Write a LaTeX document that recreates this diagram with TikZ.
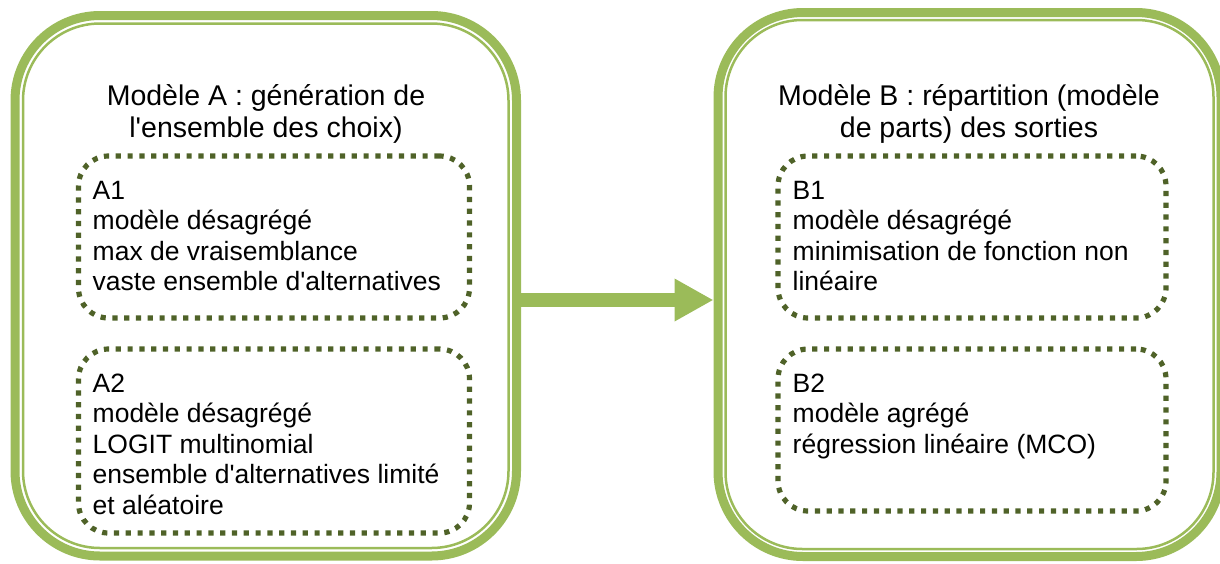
\documentclass[tikz,border=0pt]{standalone}
\usepackage{fontspec}
\setmainfont{Liberation Sans}
\usetikzlibrary{arrows.meta}
\definecolor{leaf}{HTML}{9BBB59}
\definecolor{olive}{HTML}{4F6228}
\begin{document}
\begin{tikzpicture}[x=1pt,y=-1pt,
  outerbox/.style={draw=leaf, line width=9pt, rounded corners=85pt, inner sep=0pt, outer sep=0pt},
  innerline/.style={draw=leaf, line width=2.5pt, rounded corners=77pt},
  dotbox/.style={draw=olive, line width=5.2pt, dash pattern=on 5.2pt off 6.6pt,
                 rounded corners=30pt, inner sep=0pt, outer sep=0pt},
  titletext/.style={anchor=base, inner sep=0pt, font=\fontsize{28.5}{32.5}\selectfont},
  bodytext/.style={anchor=base west, inner sep=0pt, font=\fontsize{26.5}{30.5}\selectfont},
  flow/.style={draw=leaf, line width=14pt, -{Triangle[length=39pt, width=40pt]}}]
\useasboundingbox (0,0) rectangle (1220,563);

% the two model frames: heavy outer line with a thin inner line
\node[outerbox, minimum width=501.5pt, minimum height=540.5pt] (boxA) at (265.75,285.75) {};
\node[outerbox, minimum width=503pt, minimum height=544pt] (boxB) at (969.5,284.5) {};
\draw[innerline] ([shift={(8,8)}]boxA.north west) rectangle ([shift={(-8,-8)}]boxA.south east);
\draw[innerline] ([shift={(7.5,7.5)}]boxB.north west) rectangle ([shift={(-7.5,-7.5)}]boxB.south east);

% titles
\node[titletext] (titleA) at (266,105) {\begin{tabular}[t]{@{}c@{}}Modèle A : génération de\\l\textquotesingle ensemble des choix)\end{tabular}};
\node[titletext] (titleB) at (969,105) {\begin{tabular}[t]{@{}c@{}}Modèle B : répartition (modèle\\de parts) des sorties\end{tabular}};

% dotted sub-model boxes
\node[dotbox, minimum width=391pt, minimum height=162pt] (a1) at (274,237) {};
\node[dotbox, minimum width=391pt, minimum height=184pt] (a2) at (274,441) {};
\node[dotbox, minimum width=388pt, minimum height=162pt] (b1) at (972,237) {};
\node[dotbox, minimum width=388pt, minimum height=162pt] (b2) at (972,430) {};

% sub-model descriptions
\node[bodytext] (ta1) at (92.5,199) {\begin{tabular}[t]{@{}l@{}}A1\\modèle désagrégé\\max de vraisemblance\\vaste ensemble d\textquotesingle alternatives\end{tabular}};
\node[bodytext] (ta2) at (92.5,392) {\begin{tabular}[t]{@{}l@{}}A2\\modèle désagrégé\\LOGIT multinomial\\ensemble d\textquotesingle alternatives limité\\et aléatoire\end{tabular}};
\node[bodytext] (tb1) at (792.5,199) {\begin{tabular}[t]{@{}l@{}}B1\\modèle désagrégé\\minimisation de fonction non\\linéaire\end{tabular}};
\node[bodytext] (tb2) at (792.5,392) {\begin{tabular}[t]{@{}l@{}}B2\\modèle agrégé\\régression linéaire (MCO)\end{tabular}};

% arrow from model A to model B
\coordinate (flowlevel) at (0,300);
\draw[flow, shorten <=4.5pt, shorten >=4.5pt] (boxA.east |- flowlevel) -- (boxB.west |- flowlevel);
\end{tikzpicture}
\end{document}
